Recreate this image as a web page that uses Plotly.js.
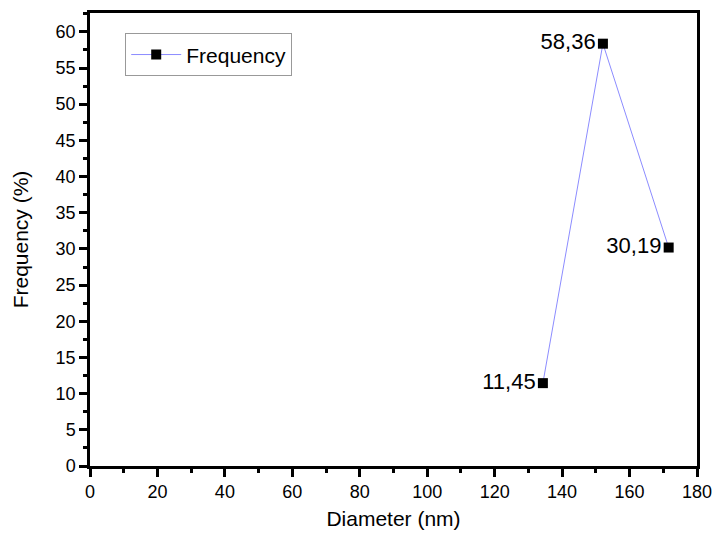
<!DOCTYPE html>
<html><head><meta charset="utf-8">
<script src="https://cdn.plot.ly/plotly-3.0.1.min.js"></script>
<style>body{margin:0;padding:0;}#chart{width:714px;height:533px;}</style>
</head><body><div id="chart"></div>
<script>
const diameters = [134.3, 152.1, 171.6];
const frequencies = [11.45, 58.36, 30.19];
const pointLabels = frequencies.map(v => v.toFixed(2).replace('.', ','));
const xTicks = [0, 20, 40, 60, 80, 100, 120, 140, 160, 180];
const yTicks = [0, 5, 10, 15, 20, 25, 30, 35, 40, 45, 50, 55, 60];

const FONT = 'Liberation Sans, Arial, sans-serif';
const trace = {
  x: diameters, y: frequencies, type: 'scatter', mode: 'lines+markers+text',
  name: 'Frequency', text: pointLabels, textposition: 'middle left',
  textfont: {family: FONT, size: 22, color: '#000'},
  line: {color: '#8c8cff', width: 1},
  marker: {symbol: 'square', size: 10, color: '#000'}
};
const axisCommon = {
  showline: true, linewidth: 2.5, linecolor: '#000', mirror: true,
  ticks: 'outside', ticklen: 8, tickwidth: 2.5, tickcolor: '#000',
  showgrid: false, zeroline: false,
  tickfont: {family: FONT, size: 18, color: '#000'}
};
const layout = {
  width: 714, height: 533,
  margin: {l: 90, r: 17, t: 13, b: 67},
  paper_bgcolor: '#fff', plot_bgcolor: '#fff',
  showlegend: true,
  legend: {x: 0.058, y: 0.955, xanchor: 'left', yanchor: 'top', bordercolor: '#999', borderwidth: 1,
    font: {family: FONT, size: 21, color: '#000'}, bgcolor: '#fff', itemwidth: 50},
  xaxis: Object.assign({}, axisCommon, {
    range: [0, 180], tickvals: xTicks, ticktext: xTicks.map(String),
    minor: {ticks: 'outside', ticklen: 4, tickwidth: 2.5, tickcolor: '#000', dtick: 10, tick0: 0},
    title: {text: 'Diameter (nm)', standoff: 10, font: {family: FONT, size: 21, color: '#000'}}
  }),
  yaxis: Object.assign({}, axisCommon, {
    range: [0, 62.6], tickvals: yTicks, ticktext: yTicks.map(String),
    minor: {ticks: 'outside', ticklen: 4, tickwidth: 2.5, tickcolor: '#000', dtick: 2.5, tick0: 0},
    title: {text: 'Frequency (%)', standoff: 22, font: {family: FONT, size: 21, color: '#000'}}
  })
};
Plotly.newPlot('chart', [trace], layout, {displayModeBar: false});
</script></body></html>
